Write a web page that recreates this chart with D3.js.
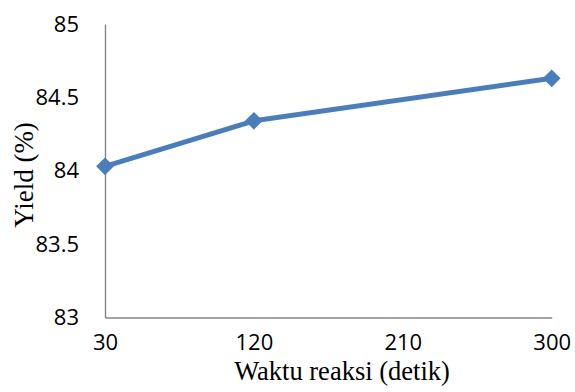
<!DOCTYPE html>
<html>
<head>
<meta charset="utf-8">
<script src="https://cdn.jsdelivr.net/npm/d3@7"></script>
<style>
  html, body { margin: 0; padding: 0; background: #fff; }
  svg { display: block; }
</style>
</head>
<body>
<svg id="chart" width="575" height="392"></svg>
<script>
// Reaction time (s) versus yield (%)
const waktu = [30, 120, 300];
const yieldPct = [84.03, 84.34, 84.63];
const xTicks = [30, 120, 210, 300];
const yTicks = [83, 83.5, 84, 84.5, 85];
const xTitle = "Waktu reaksi (detik)";
const yTitle = "Yield (%)";

const W = 575, H = 392;
const m = { left: 105, right: 23.3, top: 24, bottom: 74.5 };

const svg = d3.select("#chart");

const x = d3.scaleLinear().domain([30, 300]).range([m.left, W - m.right]);
const y = d3.scaleLinear().domain([83, 85]).range([H - m.bottom, m.top]);

const axisColor = "#868686";
const lineColor = "#4a7ebb";
const tickFont = "'Open Sans', sans-serif";
const titleFont = "'Liberation Serif', 'Times New Roman', serif";

// Y axis
const yAxis = svg.append("g")
  .attr("transform", `translate(${m.left},0)`)
  .call(d3.axisLeft(y).tickValues(yTicks).tickSize(0).tickPadding(26)
    .tickFormat(d => String(d)));
yAxis.select(".domain").attr("stroke", axisColor).attr("stroke-width", 1.4);
yAxis.selectAll("text")
  .attr("font-family", tickFont).attr("font-size", 22).attr("fill", "#000");

// X axis
const xAxis = svg.append("g")
  .attr("transform", `translate(0,${H - m.bottom})`)
  .call(d3.axisBottom(x).tickValues(xTicks).tickSize(0).tickPadding(17)
    .tickFormat(d => String(d)));
xAxis.select(".domain").attr("stroke", axisColor).attr("stroke-width", 1.4);
xAxis.selectAll("text")
  .attr("font-family", tickFont).attr("font-size", 22).attr("fill", "#000");

// Series line
const pts = waktu.map((t, i) => [t, yieldPct[i]]);
svg.append("path")
  .datum(pts)
  .attr("fill", "none")
  .attr("stroke", lineColor)
  .attr("stroke-width", 5)
  .attr("stroke-linejoin", "round")
  .attr("d", d3.line().x(d => x(d[0])).y(d => y(d[1])));

// Diamond markers
const diamond = d3.symbol().type(d3.symbolDiamond2).size(200);
svg.append("g").selectAll("path")
  .data(pts)
  .join("path")
  .attr("transform", d => `translate(${x(d[0])},${y(d[1])})`)
  .attr("d", diamond)
  .attr("fill", lineColor);

// Axis titles
svg.append("text")
  .attr("x", 342).attr("y", 380)
  .attr("text-anchor", "middle")
  .attr("font-family", titleFont).attr("font-size", 26.5)
  .attr("fill", "#000")
  .text(xTitle);

svg.append("text")
  .attr("transform", "translate(33,175) rotate(-90)")
  .attr("text-anchor", "middle")
  .attr("font-family", titleFont).attr("font-size", 27)
  .attr("fill", "#000")
  .text(yTitle);
</script>
</body>
</html>
